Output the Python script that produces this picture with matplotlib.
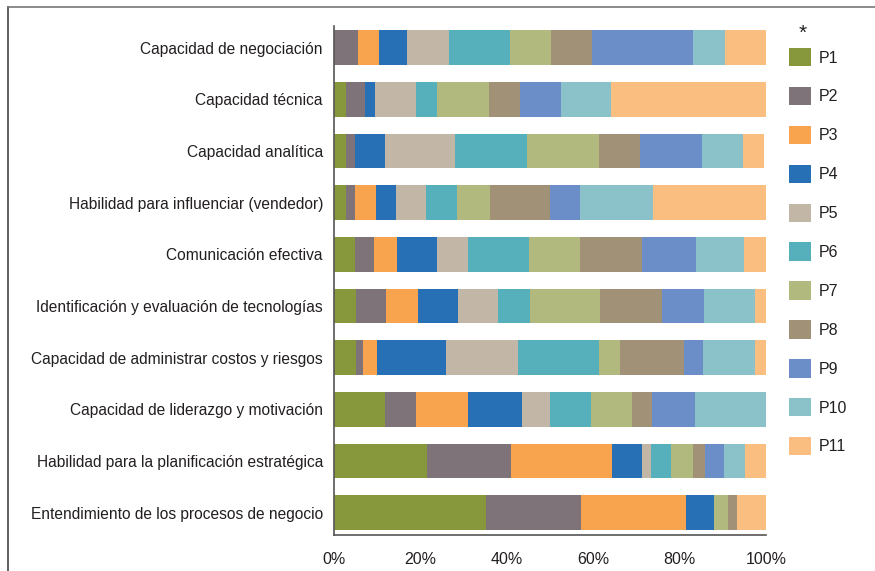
import numpy as np
import matplotlib.pyplot as plt
from matplotlib.lines import Line2D

plt.rcParams['font.family'] = ['Liberation Sans', 'DejaVu Sans']

categorias = [
    "Capacidad de negociación",
    "Capacidad técnica",
    "Capacidad analítica",
    "Habilidad para influenciar (vendedor)",
    "Comunicación efectiva",
    "Identificación y evaluación de tecnologías",
    "Capacidad de administrar costos y riesgos",
    "Capacidad de liderazgo y motivación",
    "Habilidad para la planificación estratégica",
    "Entendimiento de los procesos de negocio",
]

series = ["P1", "P2", "P3", "P4", "P5", "P6", "P7", "P8", "P9", "P10", "P11"]

# porcentajes por categoria (filas) y pregunta (columnas)
p1 = [0.0, 2.8, 2.8, 2.8, 4.9, 5.1, 5.1, 11.8, 21.5, 35.2]
p2 = [5.6, 4.4, 2.1, 2.1, 4.4, 6.9, 1.6, 7.2, 19.4, 22.0]
p3 = [4.9, 0.0, 0.0, 4.9, 5.3, 7.4, 3.2, 12.0, 23.4, 24.3]
p4 = [6.5, 2.3, 6.9, 4.6, 9.3, 9.3, 16.0, 12.5, 6.9, 6.5]
p5 = [9.7, 9.5, 16.2, 6.9, 7.2, 9.3, 16.7, 6.5, 2.1, 0.0]
p6 = [14.1, 4.9, 16.7, 7.2, 14.1, 7.4, 18.8, 9.5, 4.6, 0.0]
p7 = [9.5, 12.0, 16.7, 7.6, 11.8, 16.2, 4.9, 9.5, 5.1, 3.2]
p8 = [9.5, 7.1, 9.5, 13.9, 14.4, 14.4, 14.8, 4.6, 2.8, 2.1]
p9 = [23.4, 9.6, 14.4, 6.9, 12.3, 9.7, 4.4, 10.0, 4.4, 0.0]
p10 = [7.4, 11.6, 9.3, 16.9, 11.3, 11.8, 12.0, 16.4, 4.9, 0.0]
p11 = [9.5, 35.9, 4.9, 26.2, 5.1, 2.5, 2.5, 0.0, 4.9, 6.7]

colores = ["#87983c", "#7f737a", "#f8a44e", "#2870b5", "#c2b7a6", "#55b0bb",
           "#b1b97e", "#a19177", "#6c8ec8", "#8bc2ca", "#f9be80"]

valores = np.array([p1, p2, p3, p4, p5, p6, p7, p8, p9, p10, p11]) / 100.0

fig = plt.figure(figsize=(8.75, 5.71), dpi=100)
ax = fig.add_axes([334/875, 1 - 535/571, 432/875, (535 - 26)/571])

y = np.arange(len(categorias))
izq = np.zeros(len(categorias))
barras = []
for i in range(len(series)):
    b = ax.barh(y, valores[i], left=izq, height=0.67, color=colores[i],
                label=series[i], linewidth=0)
    barras.append(b)
    izq = izq + valores[i]

ax.set_ylim(len(categorias) - 1 + 0.435, -0.42)
ax.set_xlim(0, 1)
ax.set_yticks(y)
ax.set_yticklabels(categorias, fontsize=11.2, color="#231f20")
ax.set_xticks([0, 0.2, 0.4, 0.6, 0.8, 1.0])
ax.set_xticklabels(["0%", "20%", "40%", "60%", "80%", "100%"], fontsize=11.5,
                   color="#231f20")
ax.tick_params(axis="y", length=0, pad=8)
ax.tick_params(axis="x", length=0, pad=12)
for s in ["top", "right"]:
    ax.spines[s].set_visible(False)
ax.spines["left"].set_color("#555555")
ax.spines["left"].set_linewidth(1.2)
ax.spines["bottom"].set_color("#555555")
ax.spines["bottom"].set_linewidth(1.2)

leg = fig.legend(handles=barras, labels=series, loc="upper left",
                 bbox_to_anchor=(789/875, 1 - 48/571), frameon=False,
                 fontsize=11.5, handlelength=1.4, handleheight=1.4,
                 labelspacing=1.28, handletextpad=0.45, borderaxespad=0,
                 borderpad=0)
for t in leg.get_texts():
    t.set_color("#231f20")
fig.text(803/875, 1 - 33/571, "*", fontsize=15, ha="center", va="center",
         color="#231f20")

# marco de la figura
fig.add_artist(Line2D([8/875, 8/875], [0, 1 - 7/571], transform=fig.transFigure,
                      color="#444444", linewidth=1.2))
fig.add_artist(Line2D([8/875, 1], [1 - 7/571, 1 - 7/571], transform=fig.transFigure,
                      color="#777777", linewidth=1.2))

fig.savefig("out.png", dpi=100)
